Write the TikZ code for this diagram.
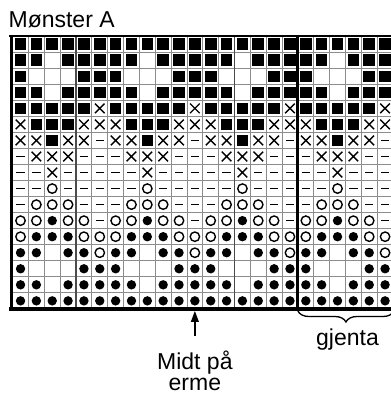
\documentclass[tikz,border=0pt]{standalone}
\usepackage{fontspec}
\setmainfont{Liberation Sans}
\usetikzlibrary{decorations.pathreplacing,arrows.meta}

% chart geometry (1 unit = 1pt, y grows downwards)
\def\Xo{12.6}   % left edge of the grid
\def\Pw{15.85}  % cell width
\def\Yo{36.2}   % top edge of the grid
\def\Qh{16.04}  % cell height

\tikzset{
  gridline/.style={draw=black!45, line width=0.9pt},
  tenline/.style={draw=black!70, line width=1.1pt},
  frameline/.style={draw=black, line cap=rect},
  label/.style={inner sep=0pt, font=\fontsize{23}{26}\selectfont},
  stsq/.pic={\fill (-5.8,-5.8) rectangle (5.8,5.8);},
  stx/.pic={\draw[line width=1.4pt] (-4.8,-4.8) -- (4.8,4.8) (-4.8,4.8) -- (4.8,-4.8);},
  stdash/.pic={\draw[line width=1.4pt] (-4.2,0) -- (4.2,0);},
  stcirc/.pic={\draw[line width=1.4pt] (0,0) circle[radius=4.7];},
  stdot/.pic={\fill (0,0) circle[radius=4.7];},
}

\begin{document}
\begin{tikzpicture}[x=1pt,y=-1pt]
\useasboundingbox (0,0) rectangle (391,394);

% thin grid lines
\foreach \k in {1,...,23}
  \draw[gridline] ({\Xo+\k*\Pw},\Yo) -- ({\Xo+\k*\Pw},{\Yo+17*\Qh});
\foreach \r in {1,...,16}
  \draw[gridline] (\Xo,{\Yo+\r*\Qh}) -- (394,{\Yo+\r*\Qh});
% every tenth stitch, counted from the right
\foreach \k in {4,14}
  \draw[tenline] ({\Xo+\k*\Pw},\Yo) -- ({\Xo+\k*\Pw},{\Yo+17*\Qh});

% stitch symbols: 0 empty, 1 square, 2 cross, 3 dash, 4 ring, 5 dot
% each row repeats over 6 stitches
\foreach \r/\a/\b/\c/\d/\e/\f in {
   0/1/1/1/1/1/1,  1/1/1/0/1/1/1,  2/1/0/0/0/1/1,  3/1/1/0/1/1/1,
   4/1/1/1/1/1/2,  5/2/1/1/1/2/2,  6/2/2/1/2/2/3,  7/3/2/2/2/3/3,
   8/3/3/2/3/3/3,  9/3/3/4/3/3/3, 10/3/4/4/4/3/3, 11/4/4/5/4/4/3,
  12/4/5/5/5/4/4, 13/5/5/0/5/5/4, 14/5/0/0/0/5/5, 15/5/5/0/5/5/5,
  16/5/5/5/5/5/5}
{
  \foreach \k in {0,...,23}
  {
    \pgfmathtruncatemacro\s{{\a,\b,\c,\d,\e,\f}[mod(\k,6)]}
    \pgfmathsetmacro\cx{\Xo+(\k+0.5)*\Pw}
    \pgfmathsetmacro\cy{\Yo+(\r+0.5)*\Qh}
    \ifcase\s
    \or \pic at (\cx,\cy) {stsq};
    \or \pic at (\cx,\cy) {stx};
    \or \pic at (\cx,\cy) {stdash};
    \or \pic at (\cx,\cy) {stcirc};
    \or \pic at (\cx,\cy) {stdot};
    \fi
  }
}

% outer frame and the start of the repeat
\draw[frameline, line width=2.5pt] (10.5,\Yo) -- (394,\Yo);
\draw[frameline, line width=3pt] (11,\Yo) -- (11,308.9);
\draw[frameline, line width=3.5pt] (11,308.9) -- (394,308.9);
\draw[draw=black, line width=3pt] ({\Xo+18*\Pw},\Yo) -- ({\Xo+18*\Pw},308.9);

% labels
\node[label, anchor=base west] (title) at (8.4,27.3) {Mønster A};
\node[label, anchor=base, text height=16pt, text depth=5pt, outer ysep=17pt]
  (midt) at ({\Xo+11.5*\Pw},369) {Midt på};
\node[label, anchor=base] (erme) at ({\Xo+11.5*\Pw},390) {erme};
\node[label, anchor=base] (gjenta) at (347.5,345) {gjenta};

\coordinate (centre) at ({\Xo+11.5*\Pw},310.8);
\draw[line width=1.8pt, -{Triangle[length=11pt,width=7.5pt]}] (midt.north) -- (centre);

% repeat brace
\draw[line width=1.3pt, decorate, decoration={brace, amplitude=11pt}]
  (394,311) -- ({\Xo+18*\Pw},311);
\end{tikzpicture}
\end{document}
